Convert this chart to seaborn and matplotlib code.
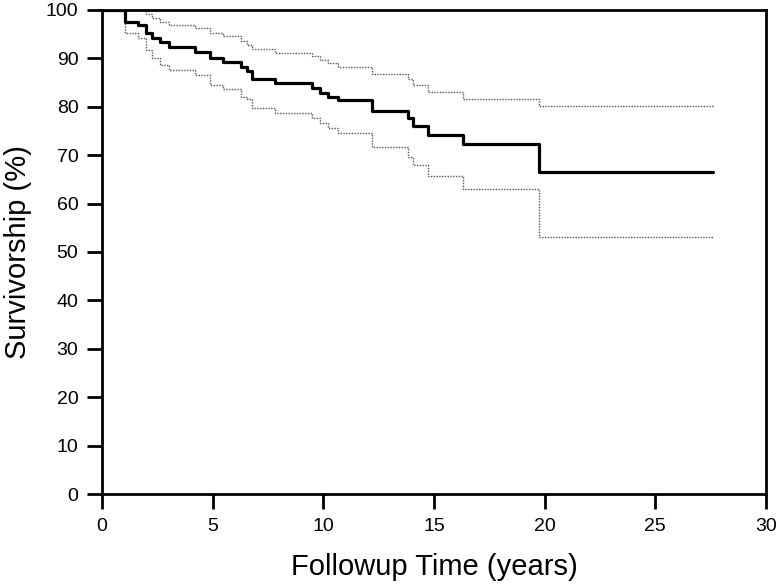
import matplotlib
matplotlib.use("Agg")
import matplotlib.pyplot as plt
import seaborn as sns
import pandas as pd

# Kaplan-Meier step data (years, survivorship %)
time = [0, 1.04, 1.64, 1.97, 2.24, 2.62, 3.03, 4.2, 4.88, 5.48, 6.26, 6.54, 6.76,
        7.82, 9.47, 9.85, 10.23, 10.68, 12.19, 13.84, 14.06, 14.74, 16.33, 19.75, 27.6]
survival = [100, 97.5, 96.8, 95.2, 94.1, 93.3, 92.3, 91.4, 90.0, 89.2, 88.3, 87.3, 85.7,
            84.9, 83.9, 82.9, 82.1, 81.3, 79.1, 77.6, 76.0, 74.2, 72.3, 66.6, 66.6]
upper = [100, 100, 100, 99.2, 98.3, 97.6, 96.9, 96.2, 95.2, 94.6, 93.6, 92.8, 91.9,
         91.2, 90.4, 89.7, 89.1, 88.3, 86.7, 85.7, 84.4, 83.1, 81.6, 80.2, 80.2]
lower = [100, 95.2, 94.1, 91.7, 90.0, 88.6, 87.5, 86.6, 84.5, 83.6, 82.1, 81.5, 79.7,
         78.8, 77.6, 76.6, 75.6, 74.6, 71.6, 69.7, 68.0, 65.7, 63.0, 53.2, 53.2]

x_ticks = [0, 5, 10, 15, 20, 25, 30]
y_ticks = [0, 10, 20, 30, 40, 50, 60, 70, 80, 90, 100]

sns.set_style("ticks")
plt.rcParams['font.family'] = ['Liberation Sans', 'DejaVu Sans']
plt.rcParams['axes.labelcolor'] = 'black'
plt.rcParams['text.color'] = 'black'

df = pd.DataFrame({"time": time, "survival": survival, "upper": upper, "lower": lower})

fig = plt.figure(figsize=(7.79, 5.84), dpi=100)
ax = fig.add_axes([0.131, 0.154, 0.852, 0.829])

for col in ["upper", "lower"]:
    sns.lineplot(data=df, x="time", y=col, ax=ax, drawstyle="steps-post",
                 color="#555555", linewidth=1.0, linestyle=(0, (1, 1)))
sns.lineplot(data=df, x="time", y="survival", ax=ax, drawstyle="steps-post",
             color="black", linewidth=2.3)

ax.set_xlim(0, 30)
ax.set_ylim(0, 100)
ax.set_xticks(x_ticks)
ax.set_yticks(y_ticks)
ax.tick_params(axis="both", direction="out", length=10.5, width=2, labelsize=14,
               colors="black", labelcolor="black", pad=6.5)
for s in ax.spines.values():
    s.set_linewidth(2)
    s.set_color("black")
ax.set_xlabel("Followup Time (years)", fontsize=21, labelpad=13, color="black")
ax.set_ylabel("Survivorship (%)", fontsize=21, labelpad=10, color="black")

fig.savefig("out.png", dpi=100)
